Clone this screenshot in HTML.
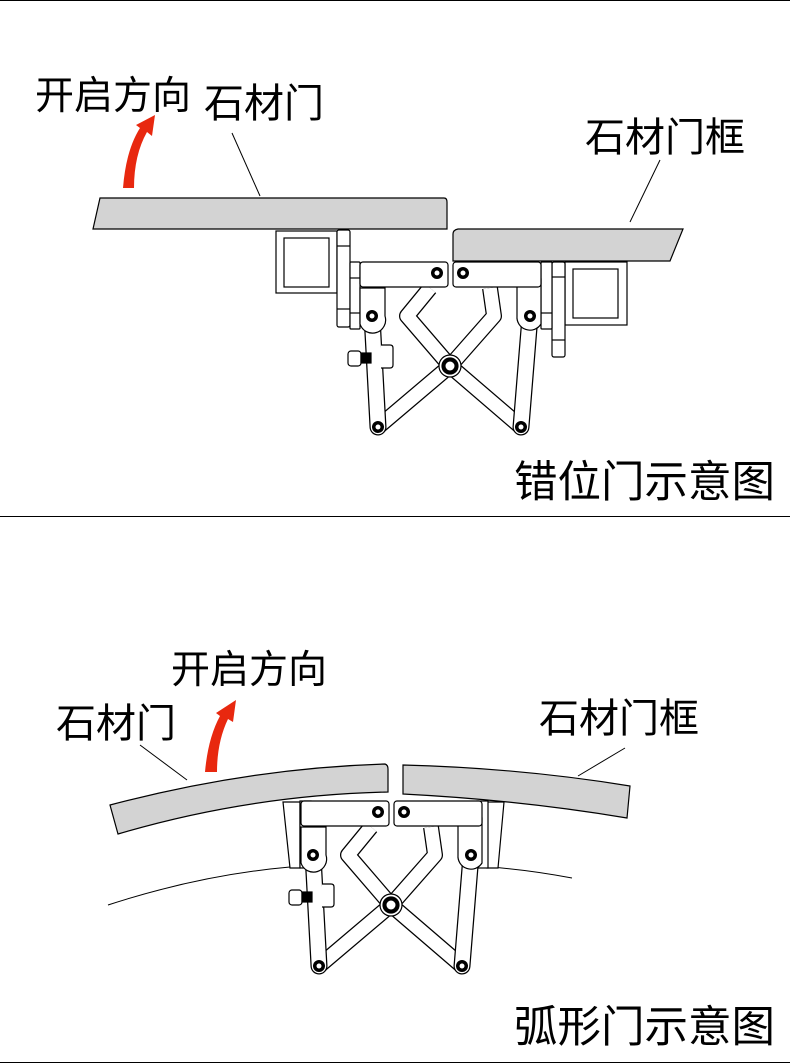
<!DOCTYPE html>
<html><head><meta charset="utf-8"><style>
html,body{margin:0;padding:0;background:#fff}
svg{display:block}
text{font-family:"Liberation Sans","Noto Sans CJK SC",sans-serif;fill:#000}
</style></head><body>
<svg width="790" height="1064" viewBox="0 0 790 1064" xmlns="http://www.w3.org/2000/svg">
<defs>
<g id="mech" fill="#fff" stroke="#000" stroke-width="1.2">
  <path d="M430,288 L407,316 L450,366 L521,427" fill="none" stroke="#000" stroke-width="16" stroke-linejoin="round"/>
  <path d="M430,288 L407,316 L450,366 L521,427" fill="none" stroke="#fff" stroke-width="13.5" stroke-linejoin="round"/>
  <path d="M490,288 L494,316 L450,366 L378,427" fill="none" stroke="#000" stroke-width="16" stroke-linejoin="round"/>
  <path d="M490,288 L494,316 L450,366 L378,427" fill="none" stroke="#fff" stroke-width="13.5" stroke-linejoin="round"/>
  <path d="M372,316 L378,427" stroke="#000" stroke-width="17" stroke-linecap="round"/>
  <path d="M372,316 L378,427" stroke="#fff" stroke-width="14.5" stroke-linecap="round"/>
  <path d="M530,316 L521,427" stroke="#000" stroke-width="17" stroke-linecap="round"/>
  <path d="M530,316 L521,427" stroke="#fff" stroke-width="14.5" stroke-linecap="round"/>
  <path d="M360,288 H385 V316 A13,13 0 0 1 360,324 Z"/>
  <path d="M541,279 H521 Q517,279 517,284 V316 A13,13 0 0 0 541,324 Z"/>
  <rect x="360" y="262" width="88" height="25" rx="3"/>
  <rect x="453" y="262" width="88" height="25" rx="3"/>
  <rect x="348" y="351" width="13" height="15" rx="3"/>
  <rect x="361" y="353" width="10" height="10" fill="#000"/>
  <path d="M381,345 H390 Q393,345 393,348 V365 Q393,368 390,368 H381"/>
  <g fill="#000" stroke="none">
    <circle cx="437" cy="273" r="6"/><circle cx="463" cy="273" r="6"/>
    <circle cx="372" cy="316" r="6"/><circle cx="530" cy="316" r="6"/>
    <circle cx="378" cy="427" r="6"/><circle cx="521" cy="427" r="6"/>
  </g>
  <g fill="#fff" stroke="none">
    <circle cx="437" cy="273" r="2.5"/><circle cx="463" cy="273" r="2.5"/>
    <circle cx="372" cy="316" r="2.5"/><circle cx="530" cy="316" r="2.5"/>
    <circle cx="378" cy="427" r="2.5"/><circle cx="521" cy="427" r="2.5"/>
  </g>
  <circle cx="450" cy="366" r="11"/>
  <circle cx="450" cy="366" r="8" fill="#000"/>
  <circle cx="450" cy="366" r="4.5" fill="#fff" stroke="none"/>
</g>
</defs>

<line x1="0" y1="0.5" x2="790" y2="0.5" stroke="#000"/>
<line x1="0" y1="516.5" x2="790" y2="516.5" stroke="#000"/>
<line x1="0" y1="1062.5" x2="790" y2="1062.5" stroke="#000"/>

<path d="M93,229 L100,198 H444 Q447,198 447,202 V229 Z" fill="#d3d3d3" stroke="#000" stroke-width="1.2"/>
<path d="M453,261 V234 Q453,230 458,229 H683 L670,261 Z" fill="#d3d3d3" stroke="#000" stroke-width="1.2"/>
<g fill="#fff" stroke="#000" stroke-width="1.2">
<rect x="276" y="231" width="61" height="62"/><rect x="284" y="238" width="45" height="49"/>
<rect x="337" y="230" width="13" height="97" rx="2"/><line x1="337" y1="246" x2="350" y2="246"/><line x1="337" y1="309" x2="350" y2="309"/>
<rect x="350" y="262" width="10" height="67" rx="1"/><line x1="350" y1="278" x2="360" y2="278"/><line x1="350" y1="313" x2="360" y2="313"/>
<rect x="565" y="262" width="62" height="63"/><rect x="573" y="269" width="45" height="49"/>
<rect x="552" y="262" width="13" height="95" rx="2"/><line x1="552" y1="277" x2="565" y2="277"/><line x1="552" y1="340" x2="565" y2="340"/>
<rect x="541" y="262" width="11" height="67" rx="1"/><line x1="541" y1="313" x2="552" y2="313"/>
</g>
<use href="#mech"/>
<line x1="260" y1="196" x2="232" y2="133" stroke="#000" stroke-width="1"/>
<line x1="630" y1="222" x2="660" y2="160" stroke="#000" stroke-width="1"/>
<path d="M123,188 Q126,150 140,128 L136,125 L155,115 L152,136 L147,132 Q134,155 134,188 Z" fill="#e8280f"/>
<text x="35" y="109" font-size="39">开启方向</text>
<text x="204" y="117" font-size="40">石材门</text>
<text x="585" y="151" font-size="40">石材门框</text>
<text x="514" y="497" font-size="43.5">错位门示意图</text>

<path d="M108,905 Q200,875 290,867" fill="none" stroke="#000" stroke-width="1"/>
<path d="M490,867 Q530,870 572,878" fill="none" stroke="#000" stroke-width="1"/>
<path d="M110,805 Q250,768 385,764 Q388,765 388,769 V792 Q250,795 118,834 Z" fill="#d3d3d3" stroke="#000" stroke-width="1.2"/>
<path d="M403,765 Q520,768 630,786 L627,818 Q520,800 403,794 Z" fill="#d3d3d3" stroke="#000" stroke-width="1.2"/>
<g fill="#fff" stroke="#000" stroke-width="1.2">
<path d="M283,802 H300 V868 H290 Z"/>
<rect x="300" y="801" width="11" height="67"/>
<path d="M504,802 H487 V868 H498 Z"/>
<rect x="477" y="801" width="11" height="67"/>
</g>
<use href="#mech" transform="translate(-59,539)"/>
<line x1="187" y1="780" x2="140" y2="745" stroke="#000" stroke-width="1"/>
<line x1="578" y1="776" x2="625" y2="748" stroke="#000" stroke-width="1"/>
<path d="M205,772 Q208,738 220,716 L216,713 L236,700 L233,722 L228,719 Q217,742 217,772 Z" fill="#e8280f"/>
<text x="171" y="683" font-size="39">开启方向</text>
<text x="56" y="737" font-size="40">石材门</text>
<text x="539" y="732" font-size="40">石材门框</text>
<text x="514" y="1042" font-size="43.5">弧形门示意图</text>
</svg>
</body></html>
